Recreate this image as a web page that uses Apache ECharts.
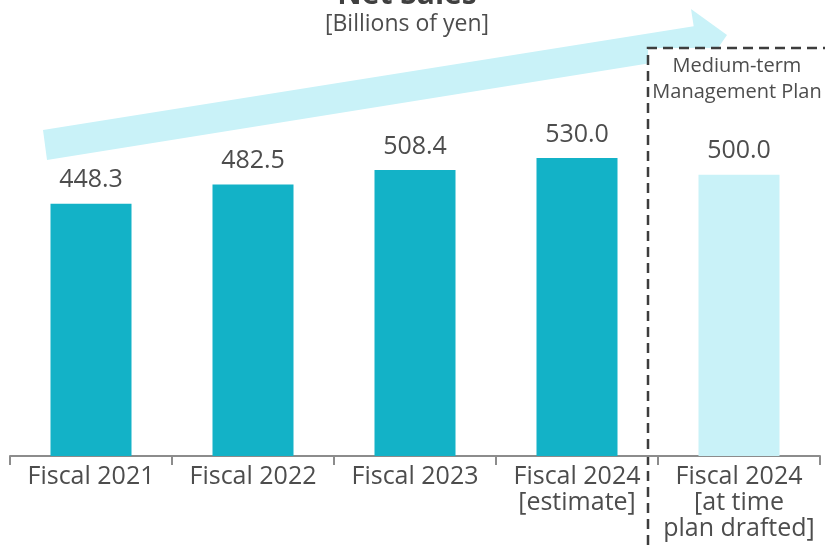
<!DOCTYPE html>
<html>
<head>
<meta charset="utf-8">
<script src="https://cdn.jsdelivr.net/npm/echarts@6/dist/echarts.min.js"></script>
<style>html,body{margin:0;padding:0;background:#fff}#c{width:825px;height:545px}</style>
</head>
<body>
<div id="c"></div>
<script>
const categories = ["Fiscal 2021", "Fiscal 2022", "Fiscal 2023", "Fiscal 2024\n[estimate]", "Fiscal 2024\n[at time\nplan drafted]"];
const netSales = [448.3, 482.5, 508.4, 530.0, 500.0];
const planIndex = 4;
const titleText = "Net Sales";
const unitText = "[Billions of yen]";
const planBoxText = "Medium-term\nManagement Plan";

const FONT = "'Open Sans', 'Noto Sans', sans-serif";
const TEXT = "#4d4d4d";
const TEAL = "#13b2c7";
const LIGHT = "#c9f2f8";

const chart = echarts.init(document.getElementById('c'), null, {renderer: 'canvas'});
chart.setOption({
  animation: false,
  backgroundColor: '#fff',
  grid: {left: 10, right: 5, top: 6, bottom: 89, containLabel: false},
  xAxis: {
    type: 'category',
    data: categories,
    boundaryGap: true,
    axisLine: {show: true, lineStyle: {color: '#8c8c8c', width: 2}},
    axisTick: {show: true, length: 9, lineStyle: {color: '#8c8c8c', width: 2}},
    axisLabel: {color: TEXT, fontFamily: FONT, fontSize: 25, lineHeight: 26, margin: 8, interval: 0}
  },
  yAxis: {type: 'value', min: 0, max: 800, show: false, splitLine: {show: false}},
  graphic: [
    {type: 'polygon', silent: true, z: -10,
     shape: {points: [[43,130],[693.7,26.2],[691,9],[727,35],[718,48],[648,48],[648,63.5],[47,160]]},
     style: {fill: LIGHT}},
    {type: 'polyline', silent: true,
     shape: {points: [[648,545],[648,48],[825,48]]},
     style: {stroke: '#3d3d3d', lineWidth: 2.5, lineDash: [10,6], fill: null}},
    {type: 'text', x: 407, y: 10, silent: true,
     style: {text: titleText, fill: '#404040', font: "bold 30px " + FONT, textAlign: 'center', textVerticalAlign: 'bottom'}},
    {type: 'text', x: 407, y: 24, silent: true,
     style: {text: unitText, fill: TEXT, font: "23px " + FONT, textAlign: 'center', textVerticalAlign: 'middle'}},
    {type: 'text', x: 737, y: 79, silent: true,
     style: {text: planBoxText, fill: TEXT, font: "20px " + FONT, lineHeight: 26, textAlign: 'center', textVerticalAlign: 'middle'}}
  ],
  series: [{
    type: 'bar',
    data: netSales,
    barWidth: '50%',
    itemStyle: {color: p => p.dataIndex === planIndex ? LIGHT : TEAL},
    label: {show: true, position: 'top', distance: 11, color: TEXT, fontFamily: FONT, fontSize: 25,
            formatter: p => p.value.toFixed(1)}
  }]
});
</script>
</body>
</html>
